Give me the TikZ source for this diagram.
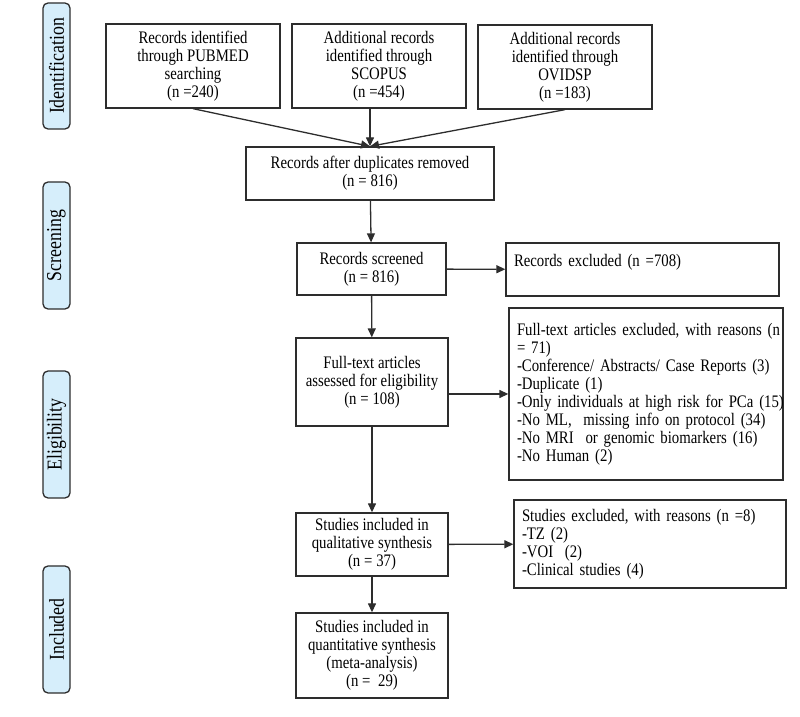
\documentclass[tikz,border=0pt]{standalone}
\usepackage{fontspec}
\setmainfont{Liberation Serif}[FakeStretch=0.84]
\usetikzlibrary{arrows.meta}
\definecolor{phase}{RGB}{214,238,251}
\definecolor{edge}{RGB}{45,45,45}
\newcommand\boxfont{\fontsize{8.8}{9}\selectfont\fontdimen2\font=1.9pt\relax}

\begin{document}
\begin{tikzpicture}[x=0.5pt,y=-0.5pt,
  every node/.style={font=\boxfont},
  box/.style={draw=edge,line width=0.65pt,align=center,inner sep=2pt},
  exbox/.style={draw=edge,line width=0.65pt,align=left,inner xsep=4pt,inner ysep=3.5pt},
  phasebox/.style={draw=edge,line width=0.65pt,fill=phase,rounded corners=2.5pt,
    rotate=90,inner sep=0pt,font=\fontsize{10.6}{12}\selectfont},
  link/.style={-{Triangle[length=4.5pt,width=4pt]},draw=edge,line width=0.65pt}]

\useasboundingbox (0,0) rectangle (800,717);

% phases on the left
\node[phasebox,minimum width=63pt,minimum height=13.5pt] (pid) at (56.5,66) {Identification};
\node[phasebox,minimum width=63.5pt,minimum height=13.5pt] (pscr) at (56.5,245.5) {Screening};
\node[phasebox,minimum width=63.5pt,minimum height=13.5pt] (pel) at (56.5,434.5) {Eligibility};
\node[phasebox,minimum width=63.5pt,minimum height=13.5pt] (pinc) at (56.5,629.5) {Included};

% identification
\node[box,minimum width=87pt,minimum height=42pt] (pub) at (193,66) {Records identified\\through PUBMED\\searching\\(n =240)};
\node[box,minimum width=87pt,minimum height=42pt] (sco) at (379,66) {Additional records\\identified through\\SCOPUS\\(n =454)};
\node[box,minimum width=87pt,minimum height=42pt] (ovi) at (565,67) {Additional records\\identified through\\OVIDSP\\(n =183)};
\node[box,minimum width=124pt,minimum height=26.5pt] (dup) at (370,173.5) {Records after duplicates removed\\(n = 816)};

% screening
\node[box,minimum width=74.5pt,minimum height=26pt] (scr) at (371.5,269) {Records screened\\(n = 816)};
\node[exbox,minimum width=136.5pt,minimum height=26.5pt,text width=128.5pt] (exc) at (642.5,269.5) {Records excluded (n =708)\\ \mbox{}};

% eligibility
\node[box,minimum width=76pt,minimum height=44pt] (ful) at (372,382) {Full-text articles\\assessed for eligibility\\(n = 108)};
\node[exbox,minimum width=137pt,minimum height=86pt,text width=129pt] (fte) at (646,394) {\mbox{Full-text articles excluded, with reasons (n}\\= 71)\\-Conference/ Abstracts/ Case Reports (3)\\-Duplicate (1)\\\mbox{-Only individuals at high risk for PCa (15)}\\-No ML, \ missing info on protocol (34)\\-No MRI \ or genomic biomarkers (16)\\-No Human (2)};

% included
\node[box,minimum width=76pt,minimum height=31.5pt] (qual) at (372,544.5) {Studies included in\\qualitative synthesis\\(n = 37)};
\node[exbox,minimum width=136pt,minimum height=44pt,text width=128pt] (ste) at (650,544) {Studies excluded, with reasons (n =8)\\-TZ (2)\\-VOI \ (2)\\-Clinical studies (4)};
\node[box,minimum width=76pt,minimum height=42.5pt] (quan) at (372,655.5) {Studies included in\\quantitative synthesis\\(meta-analysis)\\(n = \ 29)};

% connectors
\coordinate (meet) at (dup.north);
\draw[link] (pub.south) -- (meet);
\draw[link] (sco.south -| meet) -- (meet);
\draw[link] (ovi.south) -- (meet);
\draw[link] (dup) -- (scr);
\draw[link] (scr) -- (exc);
\draw[link] (scr) -- (ful);
\draw[link] (ful.east |- fte.west) -- (fte.west);
\draw[link] (ful) -- (qual);
\draw[link] (qual) -- (ste);
\draw[link] (qual) -- (quan);
\end{tikzpicture}
\end{document}
